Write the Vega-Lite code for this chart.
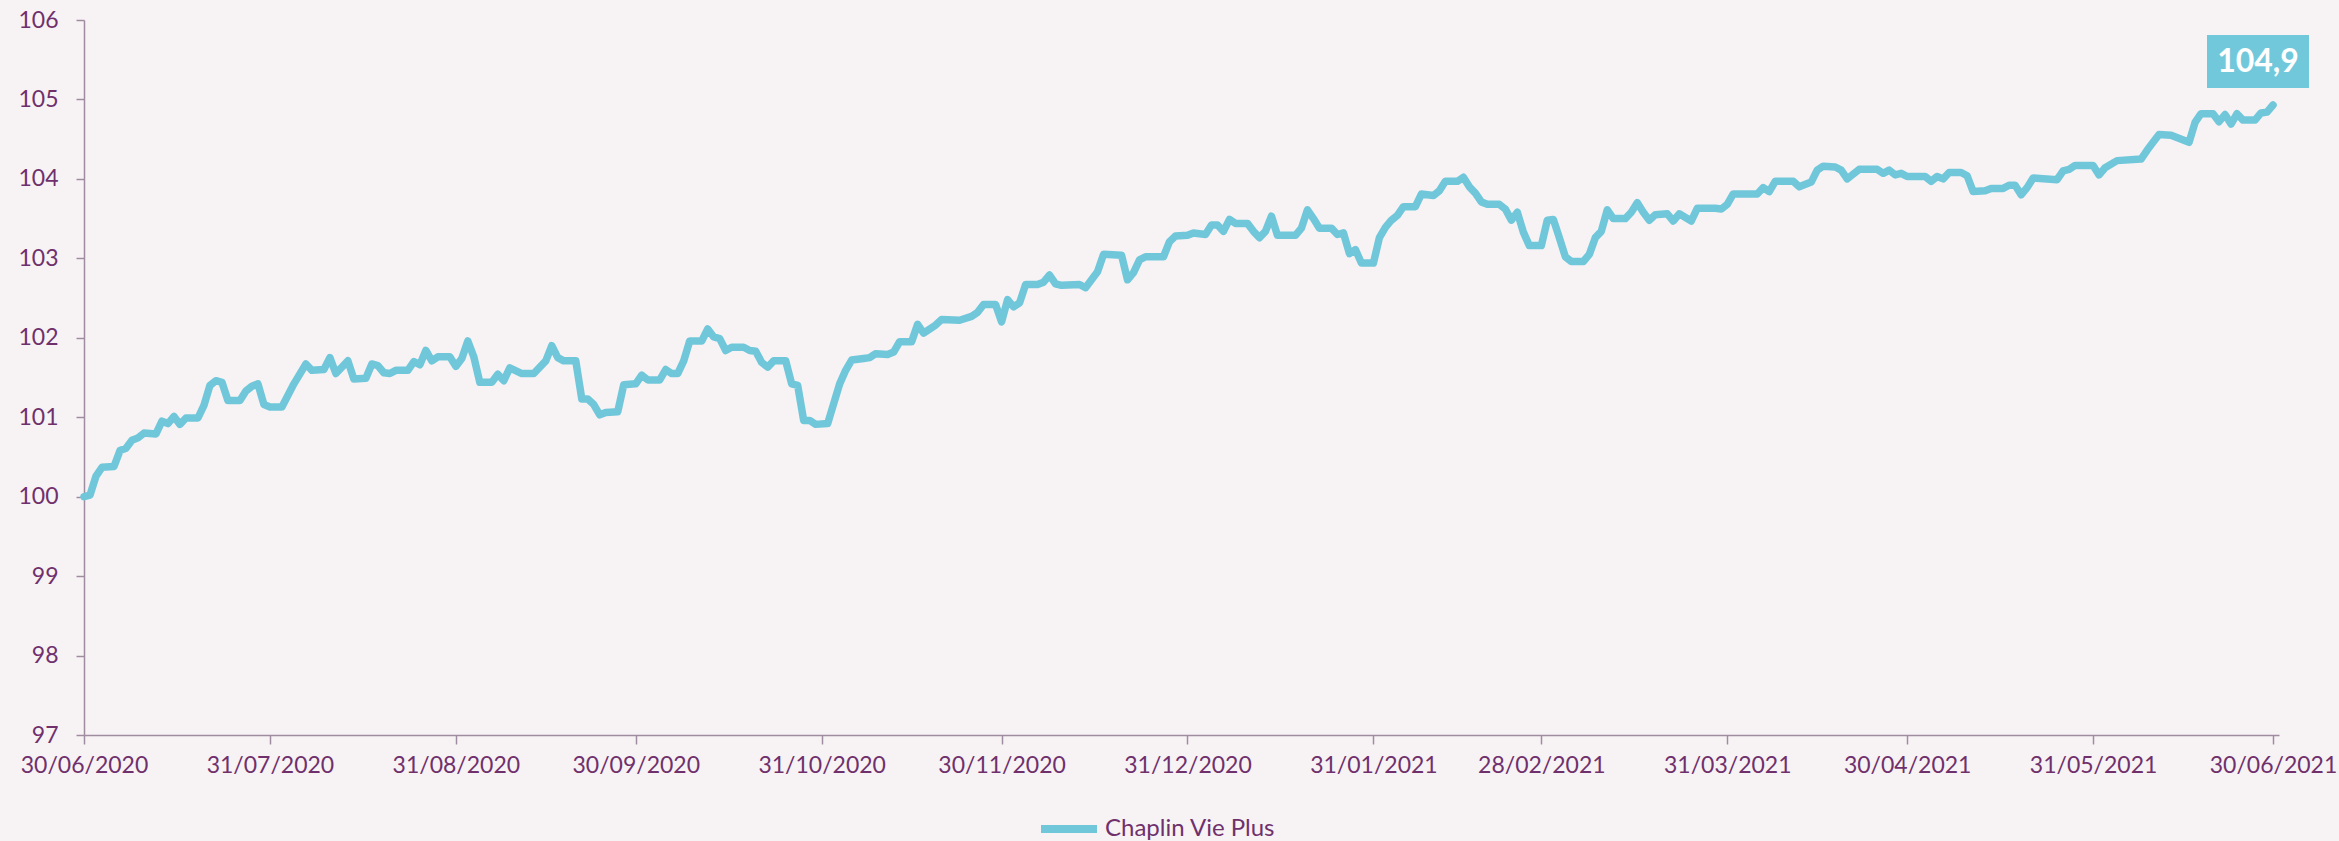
{
  "$schema": "https://vega.github.io/schema/vega-lite/v6.json",
  "width": 2195,
  "height": 715,
  "autosize": {"type": "none"},
  "padding": {"left": 84, "top": 20, "right": 60, "bottom": 106},
  "background": "#F7F3F5",
  "config": {
    "view": {"stroke": null},
    "font": "Lato",
    "axis": {
      "domainColor": "#A08CA0",
      "tickColor": "#A08CA0",
      "domainWidth": 1.5,
      "tickWidth": 1.5,
      "labelColor": "#70306C",
      "labelFont": "Lato",
      "labelFontSize": 23,
      "grid": false,
      "title": null
    }
  },
  "encoding": {
    "x": {
      "field": "date",
      "type": "temporal",
      "scale": {
        "type": "utc",
        "domain": [
          {"year": 2020, "month": 6, "date": 30, "utc": true},
          {"year": 2021, "month": 7, "date": 1, "utc": true}
        ]
      },
      "axis": {
        "values": [
          {"year": 2020, "month": 6, "date": 30, "utc": true},
          {"year": 2020, "month": 7, "date": 31, "utc": true},
          {"year": 2020, "month": 8, "date": 31, "utc": true},
          {"year": 2020, "month": 9, "date": 30, "utc": true},
          {"year": 2020, "month": 10, "date": 31, "utc": true},
          {"year": 2020, "month": 11, "date": 30, "utc": true},
          {"year": 2020, "month": 12, "date": 31, "utc": true},
          {"year": 2021, "month": 1, "date": 31, "utc": true},
          {"year": 2021, "month": 2, "date": 28, "utc": true},
          {"year": 2021, "month": 3, "date": 31, "utc": true},
          {"year": 2021, "month": 4, "date": 30, "utc": true},
          {"year": 2021, "month": 5, "date": 31, "utc": true},
          {"year": 2021, "month": 6, "date": 30, "utc": true}
        ],
        "labelExpr": "utcFormat(datum.value, '%d/%m/%Y')",
        "tickSize": 9,
        "labelPadding": 10,
        "labelFlush": false,
        "labelOverlap": false,
        "labelBound": false
      }
    },
    "y": {
      "field": "value",
      "type": "quantitative",
      "scale": {"domain": [97, 106], "nice": false, "zero": false},
      "axis": {
        "values": [97, 98, 99, 100, 101, 102, 103, 104, 105, 106],
        "format": "d",
        "tickSize": 8,
        "labelPadding": 18,
        "labelFontSize": 23
      }
    }
  },
  "layer": [
    {
      "data": {
        "values": [
          {"date": "2020-06-30", "value": 100.00},
          {"date": "2020-07-01", "value": 100.02},
          {"date": "2020-07-02", "value": 100.26},
          {"date": "2020-07-03", "value": 100.37},
          {"date": "2020-07-05", "value": 100.38},
          {"date": "2020-07-06", "value": 100.58},
          {"date": "2020-07-07", "value": 100.61},
          {"date": "2020-07-08", "value": 100.71},
          {"date": "2020-07-09", "value": 100.74},
          {"date": "2020-07-10", "value": 100.80},
          {"date": "2020-07-12", "value": 100.79},
          {"date": "2020-07-13", "value": 100.95},
          {"date": "2020-07-14", "value": 100.92},
          {"date": "2020-07-15", "value": 101.01},
          {"date": "2020-07-16", "value": 100.91},
          {"date": "2020-07-17", "value": 100.99},
          {"date": "2020-07-19", "value": 100.99},
          {"date": "2020-07-20", "value": 101.15},
          {"date": "2020-07-21", "value": 101.40},
          {"date": "2020-07-22", "value": 101.46},
          {"date": "2020-07-23", "value": 101.44},
          {"date": "2020-07-24", "value": 101.21},
          {"date": "2020-07-26", "value": 101.21},
          {"date": "2020-07-27", "value": 101.33},
          {"date": "2020-07-28", "value": 101.39},
          {"date": "2020-07-29", "value": 101.42},
          {"date": "2020-07-30", "value": 101.16},
          {"date": "2020-07-31", "value": 101.13},
          {"date": "2020-08-02", "value": 101.13},
          {"date": "2020-08-04", "value": 101.42},
          {"date": "2020-08-06", "value": 101.67},
          {"date": "2020-08-07", "value": 101.59},
          {"date": "2020-08-09", "value": 101.60},
          {"date": "2020-08-10", "value": 101.75},
          {"date": "2020-08-11", "value": 101.55},
          {"date": "2020-08-13", "value": 101.71},
          {"date": "2020-08-14", "value": 101.48},
          {"date": "2020-08-16", "value": 101.49},
          {"date": "2020-08-17", "value": 101.67},
          {"date": "2020-08-18", "value": 101.65},
          {"date": "2020-08-19", "value": 101.56},
          {"date": "2020-08-20", "value": 101.55},
          {"date": "2020-08-21", "value": 101.59},
          {"date": "2020-08-23", "value": 101.59},
          {"date": "2020-08-24", "value": 101.70},
          {"date": "2020-08-25", "value": 101.66},
          {"date": "2020-08-26", "value": 101.84},
          {"date": "2020-08-27", "value": 101.71},
          {"date": "2020-08-28", "value": 101.76},
          {"date": "2020-08-30", "value": 101.76},
          {"date": "2020-08-31", "value": 101.64},
          {"date": "2020-09-01", "value": 101.74},
          {"date": "2020-09-02", "value": 101.96},
          {"date": "2020-09-03", "value": 101.76},
          {"date": "2020-09-04", "value": 101.44},
          {"date": "2020-09-06", "value": 101.44},
          {"date": "2020-09-07", "value": 101.54},
          {"date": "2020-09-08", "value": 101.46},
          {"date": "2020-09-09", "value": 101.62},
          {"date": "2020-09-11", "value": 101.55},
          {"date": "2020-09-13", "value": 101.55},
          {"date": "2020-09-15", "value": 101.71},
          {"date": "2020-09-16", "value": 101.90},
          {"date": "2020-09-17", "value": 101.75},
          {"date": "2020-09-18", "value": 101.71},
          {"date": "2020-09-20", "value": 101.71},
          {"date": "2020-09-21", "value": 101.23},
          {"date": "2020-09-22", "value": 101.23},
          {"date": "2020-09-23", "value": 101.16},
          {"date": "2020-09-24", "value": 101.03},
          {"date": "2020-09-25", "value": 101.06},
          {"date": "2020-09-27", "value": 101.07},
          {"date": "2020-09-28", "value": 101.41},
          {"date": "2020-09-30", "value": 101.42},
          {"date": "2020-10-01", "value": 101.53},
          {"date": "2020-10-02", "value": 101.47},
          {"date": "2020-10-04", "value": 101.47},
          {"date": "2020-10-05", "value": 101.60},
          {"date": "2020-10-06", "value": 101.55},
          {"date": "2020-10-07", "value": 101.55},
          {"date": "2020-10-08", "value": 101.71},
          {"date": "2020-10-09", "value": 101.96},
          {"date": "2020-10-11", "value": 101.96},
          {"date": "2020-10-12", "value": 102.11},
          {"date": "2020-10-13", "value": 102.01},
          {"date": "2020-10-14", "value": 101.99},
          {"date": "2020-10-15", "value": 101.84},
          {"date": "2020-10-16", "value": 101.88},
          {"date": "2020-10-18", "value": 101.88},
          {"date": "2020-10-19", "value": 101.84},
          {"date": "2020-10-20", "value": 101.83},
          {"date": "2020-10-21", "value": 101.69},
          {"date": "2020-10-22", "value": 101.63},
          {"date": "2020-10-23", "value": 101.71},
          {"date": "2020-10-25", "value": 101.71},
          {"date": "2020-10-26", "value": 101.42},
          {"date": "2020-10-27", "value": 101.40},
          {"date": "2020-10-28", "value": 100.96},
          {"date": "2020-10-29", "value": 100.96},
          {"date": "2020-10-30", "value": 100.91},
          {"date": "2020-11-01", "value": 100.92},
          {"date": "2020-11-02", "value": 101.17},
          {"date": "2020-11-03", "value": 101.42},
          {"date": "2020-11-04", "value": 101.59},
          {"date": "2020-11-05", "value": 101.72},
          {"date": "2020-11-07", "value": 101.74},
          {"date": "2020-11-08", "value": 101.75},
          {"date": "2020-11-09", "value": 101.80},
          {"date": "2020-11-11", "value": 101.79},
          {"date": "2020-11-12", "value": 101.82},
          {"date": "2020-11-13", "value": 101.95},
          {"date": "2020-11-15", "value": 101.95},
          {"date": "2020-11-16", "value": 102.17},
          {"date": "2020-11-17", "value": 102.06},
          {"date": "2020-11-18", "value": 102.11},
          {"date": "2020-11-19", "value": 102.16},
          {"date": "2020-11-20", "value": 102.23},
          {"date": "2020-11-23", "value": 102.22},
          {"date": "2020-11-25", "value": 102.27},
          {"date": "2020-11-26", "value": 102.32},
          {"date": "2020-11-27", "value": 102.42},
          {"date": "2020-11-29", "value": 102.42},
          {"date": "2020-11-30", "value": 102.20},
          {"date": "2020-12-01", "value": 102.48},
          {"date": "2020-12-02", "value": 102.39},
          {"date": "2020-12-03", "value": 102.44},
          {"date": "2020-12-04", "value": 102.67},
          {"date": "2020-12-06", "value": 102.67},
          {"date": "2020-12-07", "value": 102.70},
          {"date": "2020-12-08", "value": 102.79},
          {"date": "2020-12-09", "value": 102.68},
          {"date": "2020-12-10", "value": 102.66},
          {"date": "2020-12-13", "value": 102.67},
          {"date": "2020-12-14", "value": 102.63},
          {"date": "2020-12-15", "value": 102.73},
          {"date": "2020-12-16", "value": 102.83},
          {"date": "2020-12-17", "value": 103.05},
          {"date": "2020-12-20", "value": 103.04},
          {"date": "2020-12-21", "value": 102.73},
          {"date": "2020-12-22", "value": 102.82},
          {"date": "2020-12-23", "value": 102.98},
          {"date": "2020-12-24", "value": 103.02},
          {"date": "2020-12-27", "value": 103.02},
          {"date": "2020-12-28", "value": 103.21},
          {"date": "2020-12-29", "value": 103.28},
          {"date": "2020-12-31", "value": 103.29},
          {"date": "2021-01-01", "value": 103.32},
          {"date": "2021-01-03", "value": 103.30},
          {"date": "2021-01-04", "value": 103.42},
          {"date": "2021-01-05", "value": 103.42},
          {"date": "2021-01-06", "value": 103.34},
          {"date": "2021-01-07", "value": 103.49},
          {"date": "2021-01-08", "value": 103.44},
          {"date": "2021-01-10", "value": 103.44},
          {"date": "2021-01-11", "value": 103.34},
          {"date": "2021-01-12", "value": 103.26},
          {"date": "2021-01-13", "value": 103.34},
          {"date": "2021-01-14", "value": 103.53},
          {"date": "2021-01-15", "value": 103.29},
          {"date": "2021-01-18", "value": 103.29},
          {"date": "2021-01-19", "value": 103.38},
          {"date": "2021-01-20", "value": 103.61},
          {"date": "2021-01-21", "value": 103.50},
          {"date": "2021-01-22", "value": 103.38},
          {"date": "2021-01-24", "value": 103.38},
          {"date": "2021-01-25", "value": 103.30},
          {"date": "2021-01-26", "value": 103.32},
          {"date": "2021-01-27", "value": 103.06},
          {"date": "2021-01-28", "value": 103.11},
          {"date": "2021-01-29", "value": 102.94},
          {"date": "2021-01-31", "value": 102.94},
          {"date": "2021-02-01", "value": 103.26},
          {"date": "2021-02-02", "value": 103.39},
          {"date": "2021-02-03", "value": 103.48},
          {"date": "2021-02-04", "value": 103.54},
          {"date": "2021-02-05", "value": 103.65},
          {"date": "2021-02-07", "value": 103.65},
          {"date": "2021-02-08", "value": 103.81},
          {"date": "2021-02-10", "value": 103.79},
          {"date": "2021-02-11", "value": 103.85},
          {"date": "2021-02-12", "value": 103.97},
          {"date": "2021-02-14", "value": 103.97},
          {"date": "2021-02-15", "value": 104.02},
          {"date": "2021-02-16", "value": 103.90},
          {"date": "2021-02-17", "value": 103.82},
          {"date": "2021-02-18", "value": 103.71},
          {"date": "2021-02-19", "value": 103.68},
          {"date": "2021-02-21", "value": 103.68},
          {"date": "2021-02-22", "value": 103.62},
          {"date": "2021-02-23", "value": 103.48},
          {"date": "2021-02-24", "value": 103.58},
          {"date": "2021-02-25", "value": 103.33},
          {"date": "2021-02-26", "value": 103.16},
          {"date": "2021-02-28", "value": 103.16},
          {"date": "2021-03-01", "value": 103.48},
          {"date": "2021-03-02", "value": 103.49},
          {"date": "2021-03-03", "value": 103.26},
          {"date": "2021-03-04", "value": 103.02},
          {"date": "2021-03-05", "value": 102.96},
          {"date": "2021-03-07", "value": 102.96},
          {"date": "2021-03-08", "value": 103.05},
          {"date": "2021-03-09", "value": 103.26},
          {"date": "2021-03-10", "value": 103.34},
          {"date": "2021-03-11", "value": 103.61},
          {"date": "2021-03-12", "value": 103.50},
          {"date": "2021-03-14", "value": 103.50},
          {"date": "2021-03-15", "value": 103.58},
          {"date": "2021-03-16", "value": 103.70},
          {"date": "2021-03-17", "value": 103.58},
          {"date": "2021-03-18", "value": 103.48},
          {"date": "2021-03-19", "value": 103.55},
          {"date": "2021-03-21", "value": 103.56},
          {"date": "2021-03-22", "value": 103.47},
          {"date": "2021-03-23", "value": 103.56},
          {"date": "2021-03-25", "value": 103.47},
          {"date": "2021-03-26", "value": 103.63},
          {"date": "2021-03-29", "value": 103.63},
          {"date": "2021-03-30", "value": 103.62},
          {"date": "2021-03-31", "value": 103.68},
          {"date": "2021-04-01", "value": 103.81},
          {"date": "2021-04-05", "value": 103.81},
          {"date": "2021-04-06", "value": 103.89},
          {"date": "2021-04-07", "value": 103.84},
          {"date": "2021-04-08", "value": 103.97},
          {"date": "2021-04-11", "value": 103.97},
          {"date": "2021-04-12", "value": 103.90},
          {"date": "2021-04-14", "value": 103.96},
          {"date": "2021-04-15", "value": 104.11},
          {"date": "2021-04-16", "value": 104.16},
          {"date": "2021-04-18", "value": 104.15},
          {"date": "2021-04-19", "value": 104.11},
          {"date": "2021-04-20", "value": 104.00},
          {"date": "2021-04-22", "value": 104.12},
          {"date": "2021-04-25", "value": 104.12},
          {"date": "2021-04-26", "value": 104.07},
          {"date": "2021-04-27", "value": 104.11},
          {"date": "2021-04-28", "value": 104.05},
          {"date": "2021-04-29", "value": 104.07},
          {"date": "2021-04-30", "value": 104.03},
          {"date": "2021-05-03", "value": 104.03},
          {"date": "2021-05-04", "value": 103.97},
          {"date": "2021-05-05", "value": 104.03},
          {"date": "2021-05-06", "value": 104.00},
          {"date": "2021-05-07", "value": 104.08},
          {"date": "2021-05-09", "value": 104.08},
          {"date": "2021-05-10", "value": 104.04},
          {"date": "2021-05-11", "value": 103.84},
          {"date": "2021-05-13", "value": 103.85},
          {"date": "2021-05-14", "value": 103.88},
          {"date": "2021-05-16", "value": 103.88},
          {"date": "2021-05-17", "value": 103.92},
          {"date": "2021-05-18", "value": 103.92},
          {"date": "2021-05-19", "value": 103.80},
          {"date": "2021-05-20", "value": 103.89},
          {"date": "2021-05-21", "value": 104.01},
          {"date": "2021-05-25", "value": 103.99},
          {"date": "2021-05-26", "value": 104.10},
          {"date": "2021-05-27", "value": 104.12},
          {"date": "2021-05-28", "value": 104.17},
          {"date": "2021-05-31", "value": 104.17},
          {"date": "2021-06-01", "value": 104.05},
          {"date": "2021-06-02", "value": 104.14},
          {"date": "2021-06-04", "value": 104.23},
          {"date": "2021-06-08", "value": 104.25},
          {"date": "2021-06-09", "value": 104.36},
          {"date": "2021-06-10", "value": 104.46},
          {"date": "2021-06-11", "value": 104.56},
          {"date": "2021-06-13", "value": 104.55},
          {"date": "2021-06-16", "value": 104.46},
          {"date": "2021-06-17", "value": 104.71},
          {"date": "2021-06-18", "value": 104.82},
          {"date": "2021-06-20", "value": 104.82},
          {"date": "2021-06-21", "value": 104.72},
          {"date": "2021-06-22", "value": 104.81},
          {"date": "2021-06-23", "value": 104.69},
          {"date": "2021-06-24", "value": 104.82},
          {"date": "2021-06-25", "value": 104.74},
          {"date": "2021-06-27", "value": 104.74},
          {"date": "2021-06-28", "value": 104.83},
          {"date": "2021-06-29", "value": 104.84},
          {"date": "2021-06-30", "value": 104.93}
        ]
      },
      "mark": {"type": "line", "strokeWidth": 7.5, "strokeCap": "round", "strokeJoin": "round"},
      "encoding": {
        "color": {
          "datum": "Chaplin Vie Plus",
          "type": "nominal",
          "scale": {"range": ["#71C7DA"]},
          "legend": {
            "orient": "none",
            "legendX": 953,
            "legendY": 777,
            "title": null,
            "symbolType": "stroke",
            "symbolStrokeWidth": 8,
            "symbolSize": 3136,
            "labelFont": "Lato",
            "labelFontSize": 24,
            "labelLimit": 500,
            "labelColor": "#70306C",
            "labelOffset": 4
          }
        }
      }
    },
    {
      "data": {"values": [{"date": "2021-06-30", "value": 104.93, "label": "104,9"}]},
      "mark": {
        "type": "point",
        "shape": "M-1,-0.52H1V0.52H-1Z",
        "size": 10404,
        "filled": true,
        "color": "#72C8DB",
        "opacity": 1,
        "strokeWidth": 0,
        "xOffset": -15,
        "yOffset": -43.5
      }
    },
    {
      "data": {"values": [{"date": "2021-06-30", "value": 104.93, "label": "104,9"}]},
      "mark": {
        "type": "text",
        "font": "Lato",
        "fontWeight": "bold",
        "fontSize": 32,
        "color": "#FFFFFF",
        "align": "center",
        "baseline": "middle",
        "xOffset": -15,
        "yOffset": -43
      },
      "encoding": {
        "text": {"field": "label"}
      }
    }
  ]
}
